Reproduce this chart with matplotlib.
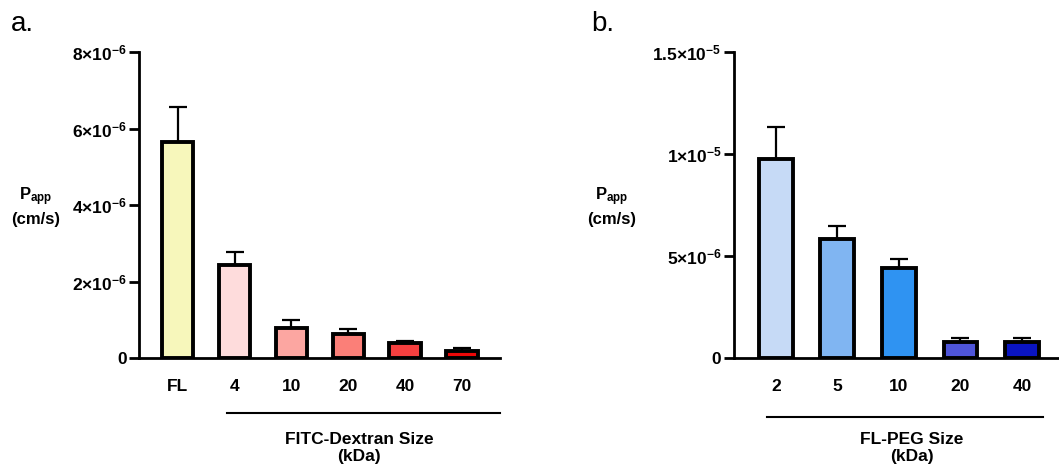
import matplotlib
matplotlib.use('Agg')
import matplotlib.pyplot as plt
from matplotlib.lines import Line2D

plt.rcParams['font.family'] = ['Liberation Sans', 'DejaVu Sans']
plt.rcParams['mathtext.fontset'] = 'custom'
plt.rcParams['mathtext.rm'] = 'Liberation Sans'
plt.rcParams['mathtext.bf'] = 'Liberation Sans:bold'
plt.rcParams['mathtext.default'] = 'bf'

# panel a - FITC-Dextran
dextran_labels = ['FL', '4', '10', '20', '40', '70']
dextran_mean = [5.65e-6, 2.43e-6, 0.78e-6, 0.63e-6, 0.38e-6, 0.18e-6]
dextran_err = [0.92e-6, 0.33e-6, 0.21e-6, 0.12e-6, 0.07e-6, 0.07e-6]
dextran_colors = ['#f7f7bb', '#fedcdc', '#fca6a1', '#fb7f78', '#f63f3f', '#ee0808']
dextran_ticks = [0, 2e-6, 4e-6, 6e-6, 8e-6]
dextran_tick_labels = ['0', '2×10$^{-6}$', '4×10$^{-6}$', '6×10$^{-6}$', '8×10$^{-6}$']

# panel b - FL-PEG
peg_labels = ['2', '5', '10', '20', '40']
peg_mean = [9.74e-6, 5.84e-6, 4.43e-6, 0.81e-6, 0.81e-6]
peg_err = [1.57e-6, 0.63e-6, 0.43e-6, 0.17e-6, 0.20e-6]
peg_colors = ['#c6daf6', '#80b5f2', '#2f93f2', '#4f55d9', '#0a14c2']
peg_ticks = [0, 5e-6, 1e-5, 1.5e-5]
peg_tick_labels = ['0', '5×10$^{-6}$', '1×10$^{-5}$', '1.5×10$^{-5}$']

W, H = 1059, 466
fig = plt.figure(figsize=(W / 100, H / 100), dpi=100)


def px(x, y):
    return x / W, 1 - y / H


def draw_panel(rect, labels, mean, err, colors, ticks, tick_labels, xlim):
    ax = fig.add_axes(rect)
    x = list(range(len(labels)))
    ax.errorbar(x, mean, yerr=[[0] * len(err), err], fmt='none', ecolor='black',
                elinewidth=1.6, capsize=6.5, capthick=1.6, zorder=1)
    ax.bar(x, mean, width=0.55, color=colors, edgecolor='black', linewidth=2.8, zorder=2)
    ax.set_xlim(*xlim)
    ax.set_ylim(0, ticks[-1])
    ax.set_yticks(ticks)
    ax.set_yticklabels(tick_labels)
    ax.set_xticks(x)
    ax.set_xticklabels(labels)
    for s in ['top', 'right']:
        ax.spines[s].set_visible(False)
    for s in ['left', 'bottom']:
        ax.spines[s].set_linewidth(2.0)
    ax.tick_params(axis='y', length=7, width=2.0, pad=2, labelsize=12.5)
    ax.tick_params(axis='x', length=0, pad=15, labelsize=12.5)
    for t in ax.get_xticklabels() + ax.get_yticklabels():
        t.set_fontweight('bold')
    return ax


draw_panel([139 / W, 1 - 358 / H, (500 - 139) / W, 306 / H],
           dextran_labels, dextran_mean, dextran_err, dextran_colors,
           dextran_ticks, dextran_tick_labels, (-0.68, 5.67))
draw_panel([734 / W, 1 - 358.3 / H, (1062 - 734) / W, 306.6 / H],
           peg_labels, peg_mean, peg_err, peg_colors,
           peg_ticks, peg_tick_labels, (-0.68, 4.65))

# panel letters
fig.text(*px(11, 31), 'a.', fontsize=20, va='baseline')
fig.text(*px(591, 31), 'b.', fontsize=20, va='baseline')

# y labels
for xc in [36, 612]:
    fig.text(*px(xc, 206), 'P$_{app}$\n(cm/s)', fontsize=12, fontweight='bold',
             ha='center', va='center', multialignment='center', linespacing=1.3)

# group brackets under the categories
for x0, x1, y in [(227, 500, 413), (767, 1043, 417)]:
    fig.add_artist(Line2D([x0 / W, x1 / W], [1 - y / H, 1 - y / H],
                          color='black', linewidth=1.5))

fig.text(*px(359, 432), 'FITC-Dextran Size\n(kDa)', fontsize=12.5, fontweight='bold',
         ha='center', va='top', multialignment='center', linespacing=1.15)
fig.text(*px(912, 432), 'FL-PEG Size\n(kDa)', fontsize=12.5, fontweight='bold',
         ha='center', va='top', multialignment='center', linespacing=1.15)

fig.savefig('out.png', dpi=100)
